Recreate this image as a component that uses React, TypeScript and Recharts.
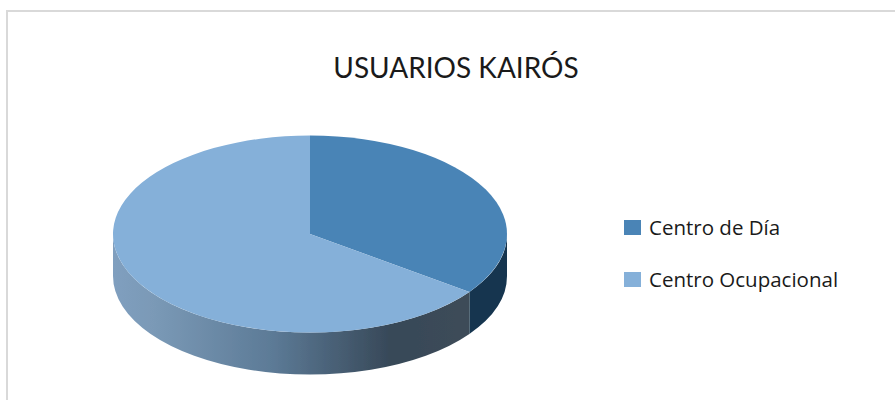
import React from 'react';
import { PieChart, Pie, Legend } from 'recharts';

const categories = ['Centro de Día', 'Centro Ocupacional'];
const usuarios = [35, 65];
const topColors = ['#4a84b6', '#85b0d9'];
const wallFills = ['#15354f', 'url(#wallLight)'];

const tableData = categories.map((name, i) => ({ name, value: usuarios[i], fill: topColors[i] }));

const TILT = 0.5;
const DEPTH = 42;
const TITLE_FONT = 'Lato, sans-serif';
const LEGEND_FONT = '"Open Sans", sans-serif';

// recharts only does round pies, so the sector is squashed here using the angles it computed
const Slice3D = (props: any) => {
  const { cx, cy, outerRadius, startAngle, endAngle, fill, name } = props;
  const rx = outerRadius;
  const ry = outerRadius * TILT;
  const px = (a: number) => cx + rx * Math.cos((a * Math.PI) / 180);
  const py = (a: number) => cy - ry * Math.sin((a * Math.PI) / 180);

  const large = startAngle - endAngle > 180 ? 1 : 0;
  const top = `M${cx},${cy} L${px(startAngle)},${py(startAngle)} A${rx},${ry} 0 ${large} 1 ${px(endAngle)},${py(endAngle)} Z`;

  const high = Math.min(startAngle, 0);
  const low = Math.max(endAngle, -180);
  const wall =
    high > low
      ? `M${px(high)},${py(high)} A${rx},${ry} 0 0 1 ${px(low)},${py(low)} L${px(low)},${py(low) + DEPTH} A${rx},${ry} 0 0 0 ${px(high)},${py(high) + DEPTH} Z`
      : null;

  return (
    <g filter="url(#soft)">
      {wall && <path d={wall} fill={wallFills[categories.indexOf(name)]} />}
      <path d={top} fill={fill} />
    </g>
  );
};

const LegendList = ({ payload }: any) => (
  <div style={{ fontFamily: LEGEND_FONT, fontSize: 20.5, color: '#1a1a1a' }}>
    {(payload || []).map((entry: any) => (
      <div key={entry.value} style={{ display: 'flex', alignItems: 'center', height: 26, marginBottom: 26 }}>
        <span style={{ width: 17, height: 15, background: entry.color, marginRight: 8 }} />
        <span>{entry.value}</span>
      </div>
    ))}
  </div>
);

export default function App() {
  return (
    <div style={{ position: 'absolute', left: 0, top: 0, width: 895, height: 400, background: '#fff', overflow: 'hidden' }}>
      <div
        style={{
          position: 'absolute',
          left: 6,
          top: 10,
          right: 0,
          bottom: 0,
          borderTop: '2px solid #d9d9d9',
          borderLeft: '2px solid #d9d9d9',
        }}
      />
      <PieChart
        width={895}
        height={400}
        margin={{ top: 0, right: 0, bottom: 0, left: 0 }}
        style={{ position: 'absolute', left: 0, top: 0 }}
      >
        <defs>
          <linearGradient id="wallLight" x1="0" y1="0" x2="1" y2="0">
            <stop offset="0" stopColor="#809fbf" />
            <stop offset="0.12" stopColor="#7a99b6" />
            <stop offset="0.45" stopColor="#5c7a96" />
            <stop offset="0.78" stopColor="#374858" />
            <stop offset="1" stopColor="#3d4c59" />
          </linearGradient>
          <filter id="soft" x="-5%" y="-5%" width="110%" height="110%">
            <feGaussianBlur stdDeviation="0.7" />
          </filter>
        </defs>
        <text x={456} y={78} textAnchor="middle" fontFamily={TITLE_FONT} fontSize={28} fill="#1a1a1a">
          USUARIOS KAIRÓS
        </text>
        <Pie
          data={tableData}
          dataKey="value"
          nameKey="name"
          cx={310}
          cy={234}
          outerRadius={197}
          startAngle={90}
          endAngle={-270}
          stroke="none"
          shape={Slice3D}
          isAnimationActive={false}
        />
        <Legend
          layout="vertical"
          itemSorter={null}
          content={<LegendList />}
          wrapperStyle={{ position: 'absolute', left: 624, top: 214, width: 260 }}
        />
      </PieChart>
    </div>
  );
}
